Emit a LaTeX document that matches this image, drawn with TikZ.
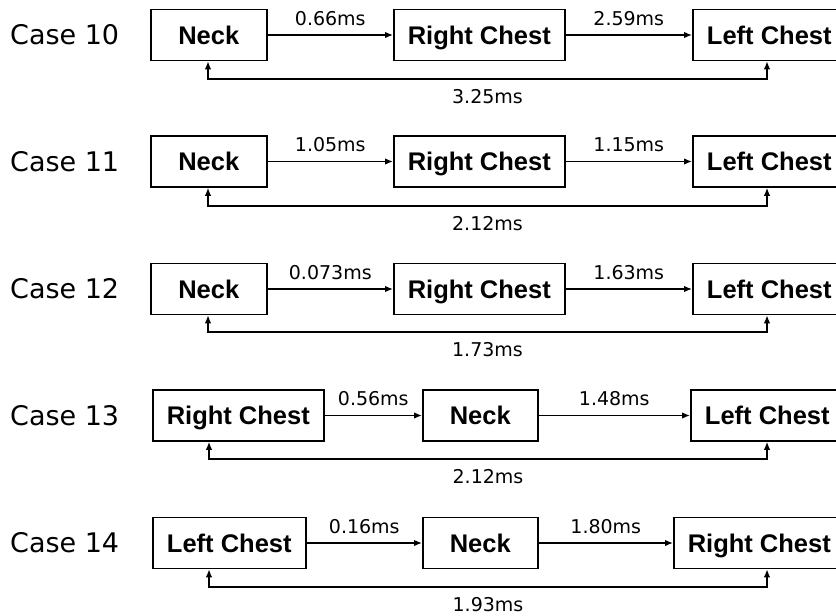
\documentclass[tikz,border=0pt]{standalone}
\usepackage{fontspec}
\setmainfont{Liberation Sans}
\newfontfamily\labelfont{DejaVu Sans}
\usetikzlibrary{arrows.meta}
\begin{document}
\begin{tikzpicture}[x=1pt,y=-1pt,
  box/.style={draw, line width=1.6pt, minimum height=51pt, inner sep=0pt,
    text height=18pt, text depth=0pt,
    anchor=west, font=\fontsize{25.5}{30}\selectfont\bfseries},
  casename/.style={anchor=west, inner sep=0pt, font=\labelfont\fontsize{27}{32}\selectfont},
  tlabel/.style={inner sep=0pt, font=\labelfont\fontsize{19}{22}\selectfont},
  flow/.style={line width=1.4pt, -{Latex[length=8pt,width=6.5pt]}},
  loopback/.style={line width=1.4pt, {Latex[length=8pt,width=6.5pt]}-{Latex[length=8pt,width=6.5pt]}},
]
\clip (0,0) rectangle (836,616);
\fill[white] (0,0) rectangle (836,616);

% ---- Case 10 ----
\node[casename] (c10) at (10,35) {Case 10};
\node[box, minimum width=116pt] (a10) at (150,35) {Neck};
\node[box, minimum width=171pt] (b10) at (393,35) {Right Chest};
\node[box, minimum width=153pt] (d10) at (692,35) {Left Chest};
\coordinate (p10) at (208,79);
\coordinate (q10) at (767,79);
\draw[flow] (a10.east) -- node[tlabel, above=9pt] {0.66ms} (b10.west);
\draw[flow] (b10.east) -- node[tlabel, above=9pt] {2.59ms} (d10.west);
\draw[loopback] (a10.south -| p10) -- (p10) -- node[tlabel, below=10pt] {3.25ms} (q10) -- (d10.south -| q10);

% ---- Case 11 ----
\node[casename] (c11) at (10,161.5) {Case 11};
\node[box, minimum width=116pt] (a11) at (150,161.5) {Neck};
\node[box, minimum width=171pt] (b11) at (393,161.5) {Right Chest};
\node[box, minimum width=153pt] (d11) at (692,161.5) {Left Chest};
\coordinate (p11) at (208,206);
\coordinate (q11) at (767,206);
\draw[flow] (a11.east) -- node[tlabel, above=9pt] {1.05ms} (b11.west);
\draw[flow] (b11.east) -- node[tlabel, above=9pt] {1.15ms} (d11.west);
\draw[loopback] (a11.south -| p11) -- (p11) -- node[tlabel, below=10pt] {2.12ms} (q11) -- (d11.south -| q11);

% ---- Case 12 ----
\node[casename] (c12) at (10,289) {Case 12};
\node[box, minimum width=116pt] (a12) at (150,289) {Neck};
\node[box, minimum width=171pt] (b12) at (393,289) {Right Chest};
\node[box, minimum width=153pt] (d12) at (692,289) {Left Chest};
\coordinate (p12) at (208,332);
\coordinate (q12) at (767,332);
\draw[flow] (a12.east) -- node[tlabel, above=9pt] {0.073ms} (b12.west);
\draw[flow] (b12.east) -- node[tlabel, above=9pt] {1.63ms} (d12.west);
\draw[loopback] (a12.south -| p12) -- (p12) -- node[tlabel, below=10pt] {1.73ms} (q12) -- (d12.south -| q12);

% ---- Case 13 ----
\node[casename] (c13) at (10,415.5) {Case 13};
\node[box, minimum width=171pt] (a13) at (152,415.5) {Right Chest};
\node[box, minimum width=115pt] (b13) at (422,415.5) {Neck};
\node[box, minimum width=153pt] (d13) at (690,415.5) {Left Chest};
\coordinate (p13) at (209,459);
\coordinate (q13) at (767,459);
\draw[flow] (a13.east) -- node[tlabel, above=9pt] {0.56ms} (b13.west);
\draw[flow] (b13.east) -- node[tlabel, above=9pt] {1.48ms} (d13.west);
\draw[loopback] (a13.south -| p13) -- (p13) -- node[tlabel, below=10pt] {2.12ms} (q13) -- (d13.south -| q13);

% ---- Case 14 ----
\node[casename] (c14) at (10,543) {Case 14};
\node[box, minimum width=153pt] (a14) at (152,543) {Left Chest};
\node[box, minimum width=115pt] (b14) at (422,543) {Neck};
\node[box, minimum width=171pt] (d14) at (673,543) {Right Chest};
\coordinate (p14) at (209,587);
\coordinate (q14) at (767,587);
\draw[flow] (a14.east) -- node[tlabel, above=9pt] {0.16ms} (b14.west);
\draw[flow] (b14.east) -- node[tlabel, above=9pt] {1.80ms} (d14.west);
\draw[loopback] (a14.south -| p14) -- (p14) -- node[tlabel, below=10pt] {1.93ms} (q14) -- (d14.south -| q14);
\end{tikzpicture}
\end{document}
